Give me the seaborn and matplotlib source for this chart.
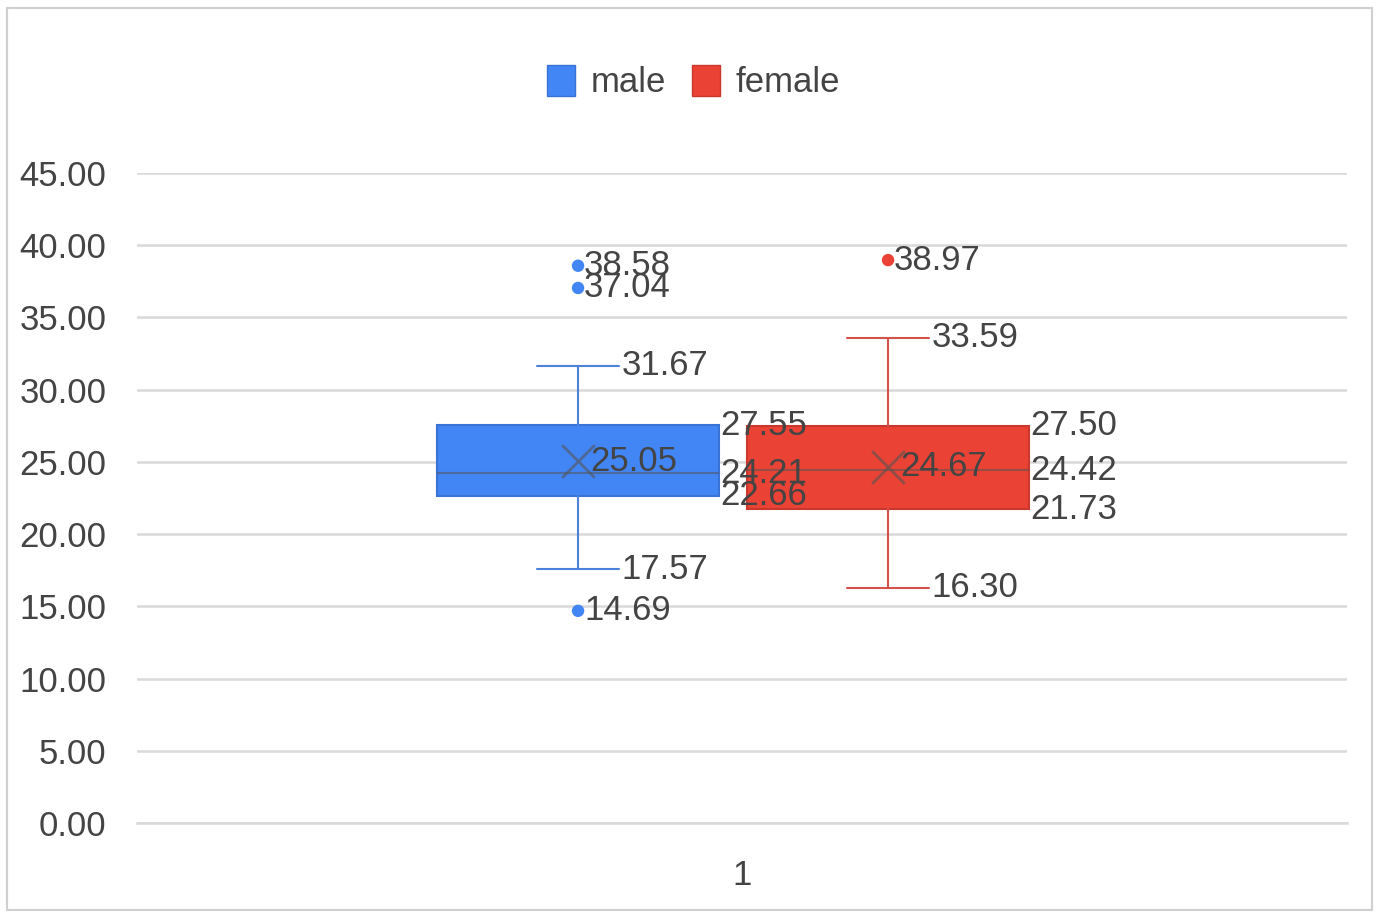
import matplotlib
matplotlib.use("Agg")
import matplotlib.pyplot as plt
from matplotlib.patches import Patch, Rectangle
import seaborn as sns
import pandas as pd

# ---- data ----
groups = ["male", "female"]
colors = ["#4285F4", "#EA4335"]
edge_colors = ["#3A73D6", "#C9382C"]
line_colors = ["#4C82DC", "#D25249"]
q1 = [22.66, 21.73]
medians = [24.21, 24.42]
q3 = [27.55, 27.50]
whisker_low = [17.57, 16.30]
whisker_high = [31.67, 33.59]
means = [25.05, 24.67]
outliers_male = [38.58, 37.04, 14.69]
outliers_female = [38.97]
y_ticks = [0, 5, 10, 15, 20, 25, 30, 35, 40, 45]
x_category = ["1"]

outliers = [outliers_male, outliers_female]

sns.set_theme(style="white")
plt.rcParams["font.family"] = ["Liberation Sans", "DejaVu Sans"]
text_color = "#444444"

fig = plt.figure(figsize=(13.79, 9.13), dpi=100)
ax = fig.add_axes([137 / 1379, 90 / 913, 1210 / 1379, 650 / 913])

positions = [0.3645, 0.6207]
box_w = 0.233
cap_w = 0.068

stats = []
for i, g in enumerate(groups):
    stats.append(dict(label=g, q1=q1[i], med=medians[i], q3=q3[i],
                      whislo=whisker_low[i], whishi=whisker_high[i],
                      mean=means[i], fliers=outliers[i]))

for i in range(len(groups)):
    ax.bxp([stats[i]], positions=[positions[i]], widths=box_w,
           capwidths=cap_w, patch_artist=True, showmeans=False,
           showfliers=False, manage_ticks=False,
           boxprops=dict(facecolor=colors[i], edgecolor=edge_colors[i], linewidth=1.5),
           whiskerprops=dict(color=line_colors[i], linewidth=1.5),
           capprops=dict(color=line_colors[i], linewidth=1.5),
           medianprops=dict(color="#555555", alpha=0.55, linewidth=1.5),
           zorder=3)

# outliers and mean markers via seaborn
flier_df = pd.DataFrame({
    "x": [positions[i] for i in range(len(groups)) for _ in outliers[i]],
    "y": [v for i in range(len(groups)) for v in outliers[i]],
    "g": [groups[i] for i in range(len(groups)) for _ in outliers[i]],
})
sns.scatterplot(data=flier_df, x="x", y="y", hue="g", palette=dict(zip(groups, colors)),
                s=80, edgecolor="none", legend=False, ax=ax, zorder=4)
mean_df = pd.DataFrame({"x": positions, "y": means})
sns.scatterplot(data=mean_df, x="x", y="y", marker="x", s=550, color="#555555",
                alpha=0.6, linewidth=2, legend=False, ax=ax, zorder=5)

fs = 25
lab_kw = dict(fontsize=fs, color=text_color, va="center", ha="left", zorder=6)
for i in range(len(groups)):
    p = positions[i]
    # whisker labels
    ax.text(p + cap_w / 2 + 0.002, whisker_high[i], f"{whisker_high[i]:.2f}", **lab_kw)
    ax.text(p + cap_w / 2 + 0.002, whisker_low[i], f"{whisker_low[i]:.2f}", **lab_kw)
    # box labels
    bx = p + box_w / 2 + 0.001
    ax.text(bx, q3[i], f"{q3[i]:.2f}", **lab_kw)
    ax.text(bx, medians[i], f"{medians[i]:.2f}", **lab_kw)
    ax.text(bx, q1[i], f"{q1[i]:.2f}", **lab_kw)
    # mean label
    ax.text(p + 0.010, means[i], f"{means[i]:.2f}", **lab_kw)
    # outlier labels
    for v in outliers[i]:
        ax.text(p + 0.005, v, f"{v:.2f}", **lab_kw)

ax.set_xlim(0, 1)
ax.set_ylim(0, 45)
ax.set_yticks(y_ticks)
ax.set_yticklabels([f"{t:.2f}" for t in y_ticks])
ax.set_xticks([0.5])
ax.set_xticklabels(x_category)
ax.tick_params(axis="y", labelsize=fs, colors=text_color, length=0, pad=22)
ax.tick_params(axis="x", labelsize=fs, colors=text_color, length=0, pad=26)
ax.set_xlabel("")
ax.set_ylabel("")
ax.yaxis.grid(True, color="#d9d9d9", linewidth=1.8)
ax.set_axisbelow(True)
for s in ["top", "right", "left"]:
    ax.spines[s].set_visible(False)
ax.spines["bottom"].set_color("#d9d9d9")
ax.spines["bottom"].set_linewidth(1.8)

handles = [Patch(facecolor=colors[i], edgecolor=edge_colors[i], label=groups[i])
           for i in range(len(groups))]
fig.legend(handles=handles, loc="center", bbox_to_anchor=(0.503, 1 - 82 / 913),
           ncol=2, frameon=False, fontsize=fs, handlelength=0.8, handleheight=1.0,
           handletextpad=0.45, columnspacing=0.75, labelcolor=text_color)

fig.patches.append(Rectangle((7 / 1379, 3 / 913), 1365 / 1379, 902 / 913,
                             transform=fig.transFigure, fill=False,
                             edgecolor="#d0d0d0", linewidth=1.5))

fig.savefig("out.png", dpi=100)
